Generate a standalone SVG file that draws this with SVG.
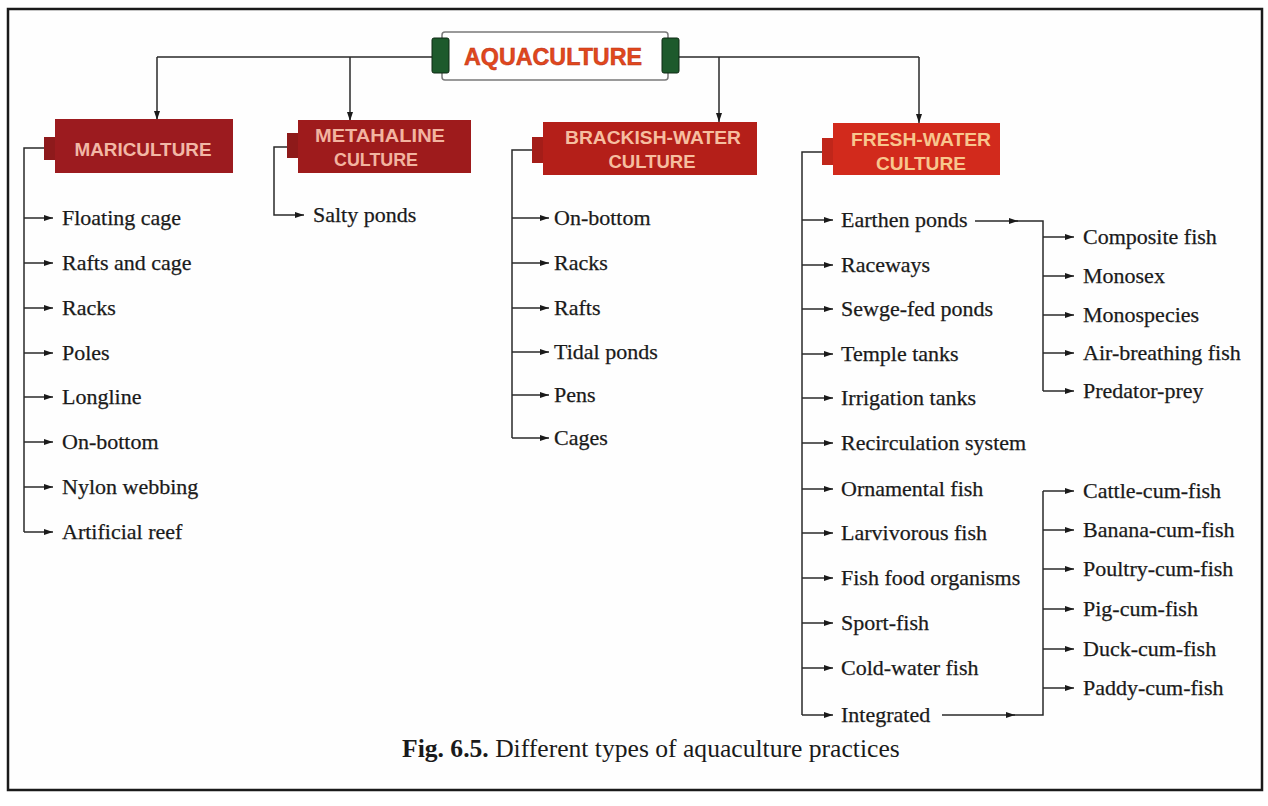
<svg xmlns="http://www.w3.org/2000/svg" width="1268" height="806" viewBox="0 0 1268 806">
<style>
.item{font-family:"Liberation Serif","Times New Roman",serif;font-size:22px;fill:#1a1a1a;stroke:#1a1a1a;stroke-width:0.25}
.hdr{font-family:"Liberation Sans",Arial,sans-serif;font-size:19px;font-weight:bold;text-anchor:middle}
.ln{fill:none;stroke:#2a2a2a;stroke-width:1.5}
.arr{fill:none;stroke:#2a2a2a;stroke-width:1.5;marker-end:url(#ah)}
.cap{font-family:"Liberation Serif","Times New Roman",serif;font-size:25.6px;fill:#1a1a1a}
</style>
<defs>
<marker id="ah" markerUnits="userSpaceOnUse" markerWidth="9" markerHeight="7" refX="9" refY="3.5" orient="auto">
<path d="M0,0.5 L9,3.5 L0,6.5 z" fill="#1a1a1a"/>
</marker>
</defs>
<rect x="0" y="0" width="1268" height="806" fill="#ffffff"/>
<rect x="8" y="9" width="1254" height="781" fill="#fefefe" stroke="#1a1a1a" stroke-width="2.5"/>

<g id="connectors">
<path class="ln" d="M157,57 H432 M679,57 H919"/>
<path class="arr" d="M157,57 V120"/>
<path class="arr" d="M350,57 V121"/>
<path class="arr" d="M719,57 V122"/>
<path class="arr" d="M919,57 V123"/>
<path class="ln" d="M44,148 H24 V532"/>
<path class="arr" d="M24,218 H53"/>
<path class="arr" d="M24,263 H53"/>
<path class="arr" d="M24,308 H53"/>
<path class="arr" d="M24,353 H53"/>
<path class="arr" d="M24,397 H53"/>
<path class="arr" d="M24,442 H53"/>
<path class="arr" d="M24,487 H53"/>
<path class="arr" d="M24,532 H53"/>
<path class="arr" d="M287,147 H274 V215 H304"/>
<path class="ln" d="M532,150 H512 V438"/>
<path class="arr" d="M512,218 H549"/>
<path class="arr" d="M512,263 H549"/>
<path class="arr" d="M512,308 H549"/>
<path class="arr" d="M512,352 H549"/>
<path class="arr" d="M512,395 H549"/>
<path class="arr" d="M512,438 H549"/>
<path class="ln" d="M822,152 H802 V715"/>
<path class="arr" d="M802,220 H833"/>
<path class="arr" d="M802,265 H833"/>
<path class="arr" d="M802,309 H833"/>
<path class="arr" d="M802,354 H833"/>
<path class="arr" d="M802,398 H833"/>
<path class="arr" d="M802,443 H833"/>
<path class="arr" d="M802,489 H833"/>
<path class="arr" d="M802,533 H833"/>
<path class="arr" d="M802,578 H833"/>
<path class="arr" d="M802,623 H833"/>
<path class="arr" d="M802,668 H833"/>
<path class="arr" d="M802,715 H833"/>
<path class="arr" d="M975,221 H1018"/>
<path class="ln" d="M1016,221 H1043 V391"/>
<path class="arr" d="M1043,237 H1074"/>
<path class="arr" d="M1043,276 H1074"/>
<path class="arr" d="M1043,315 H1074"/>
<path class="arr" d="M1043,353 H1074"/>
<path class="arr" d="M1043,391 H1074"/>
<path class="arr" d="M942,715 H1015"/>
<path class="ln" d="M1013,715 H1043 V491"/>
<path class="arr" d="M1043,491 H1074"/>
<path class="arr" d="M1043,530 H1074"/>
<path class="arr" d="M1043,569 H1074"/>
<path class="arr" d="M1043,609 H1074"/>
<path class="arr" d="M1043,649 H1074"/>
<path class="arr" d="M1043,688 H1074"/>
</g>

<g id="aquaculture">
<rect x="442" y="32" width="226" height="48" rx="3" fill="#ffffff" stroke="#7a7a7a" stroke-width="1.5"/>
<rect x="432" y="38" width="17" height="35" rx="2" fill="#1d5a2c" stroke="#0e2a14" stroke-width="1"/>
<rect x="662" y="38" width="17" height="35" rx="2" fill="#1d5a2c" stroke="#0e2a14" stroke-width="1"/>
<text x="553" y="65" font-family="'Liberation Sans',Arial,sans-serif" font-size="23" font-weight="bold" fill="#e2481c" stroke="#b8301a" stroke-width="0.5" text-anchor="middle" textLength="178" lengthAdjust="spacingAndGlyphs">AQUACULTURE</text>
</g>

<g id="mariculture">
<rect x="44" y="137" width="12" height="23" fill="#8e1a1c"/>
<rect x="55" y="119" width="178" height="54" fill="#9c1b1f"/>
<text class="hdr" x="143" y="156" fill="#f2b8a6" textLength="137" lengthAdjust="spacingAndGlyphs">MARICULTURE</text>
</g>

<g id="metahaline">
<rect x="287" y="133" width="12" height="25" fill="#8e1a1a"/>
<rect x="298" y="120" width="173" height="53" fill="#9e1b1c"/>
<text class="hdr" x="380" y="142" fill="#f2b4a0" textLength="130" lengthAdjust="spacingAndGlyphs">METAHALINE</text>
<text class="hdr" x="376" y="166" fill="#f2b4a0" textLength="84" lengthAdjust="spacingAndGlyphs">CULTURE</text>
</g>

<g id="brackish">
<rect x="532" y="137" width="12" height="26" fill="#a41d18"/>
<rect x="543" y="122" width="214" height="53" fill="#b41f19"/>
<text class="hdr" x="653" y="144" fill="#f6bea0" textLength="176" lengthAdjust="spacingAndGlyphs">BRACKISH-WATER</text>
<text class="hdr" x="652" y="168" fill="#f6bea0" textLength="87" lengthAdjust="spacingAndGlyphs">CULTURE</text>
</g>

<g id="freshwater">
<rect x="822" y="138" width="12" height="27" fill="#c0261a"/>
<rect x="833" y="123" width="167" height="52" fill="#d22a1c"/>
<text class="hdr" x="921" y="146" fill="#f8c68e" textLength="140" lengthAdjust="spacingAndGlyphs">FRESH-WATER</text>
<text class="hdr" x="921" y="170" fill="#f8c68e" textLength="90" lengthAdjust="spacingAndGlyphs">CULTURE</text>
</g>

<g id="mariculture-items">
<text class="item" x="62" y="225">Floating cage</text>
<text class="item" x="62" y="270">Rafts and cage</text>
<text class="item" x="62" y="315">Racks</text>
<text class="item" x="62" y="360">Poles</text>
<text class="item" x="62" y="404">Longline</text>
<text class="item" x="62" y="449">On-bottom</text>
<text class="item" x="62" y="494">Nylon webbing</text>
<text class="item" x="62" y="539">Artificial reef</text>
</g>

<g id="metahaline-items">
<text class="item" x="313" y="222">Salty ponds</text>
</g>

<g id="brackish-items">
<text class="item" x="554" y="225">On-bottom</text>
<text class="item" x="554" y="270">Racks</text>
<text class="item" x="554" y="315">Rafts</text>
<text class="item" x="554" y="359">Tidal ponds</text>
<text class="item" x="554" y="402">Pens</text>
<text class="item" x="554" y="445">Cages</text>
</g>

<g id="freshwater-items">
<text class="item" x="841" y="227">Earthen ponds</text>
<text class="item" x="841" y="272">Raceways</text>
<text class="item" x="841" y="316">Sewge-fed ponds</text>
<text class="item" x="841" y="361">Temple tanks</text>
<text class="item" x="841" y="405">Irrigation tanks</text>
<text class="item" x="841" y="450">Recirculation system</text>
<text class="item" x="841" y="496">Ornamental fish</text>
<text class="item" x="841" y="540">Larvivorous fish</text>
<text class="item" x="841" y="585">Fish food organisms</text>
<text class="item" x="841" y="630">Sport-fish</text>
<text class="item" x="841" y="675">Cold-water fish</text>
<text class="item" x="841" y="722">Integrated</text>
</g>

<g id="earthen-items">
<text class="item" x="1083" y="244">Composite fish</text>
<text class="item" x="1083" y="283">Monosex</text>
<text class="item" x="1083" y="322">Monospecies</text>
<text class="item" x="1083" y="360">Air-breathing fish</text>
<text class="item" x="1083" y="398">Predator-prey</text>
</g>

<g id="integrated-items">
<text class="item" x="1083" y="498">Cattle-cum-fish</text>
<text class="item" x="1083" y="537">Banana-cum-fish</text>
<text class="item" x="1083" y="576">Poultry-cum-fish</text>
<text class="item" x="1083" y="616">Pig-cum-fish</text>
<text class="item" x="1083" y="656">Duck-cum-fish</text>
<text class="item" x="1083" y="695">Paddy-cum-fish</text>
</g>

<g id="caption">
<text class="cap" x="402" y="757"><tspan font-weight="bold">Fig. 6.5.</tspan> Different types of aquaculture practices</text>
</g>
</svg>
